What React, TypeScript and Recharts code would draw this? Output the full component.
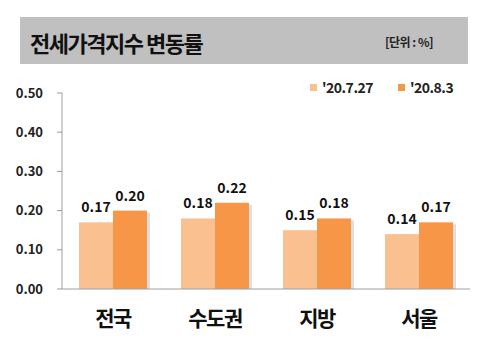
import React from 'react';
import {
  BarChart, Bar, XAxis, YAxis, Legend, LabelList,
} from 'recharts';

const categories = ['전국', '수도권', '지방', '서울'];
const jul27 = [0.17, 0.18, 0.15, 0.14];
const aug3 = [0.2, 0.22, 0.18, 0.17];
const seriesNames = ["'20.7.27", "'20.8.3"];
const seriesColors = ['#FAC090', '#F79646'];
const yTicks = [0, 0.1, 0.2, 0.3, 0.4, 0.5];
const edgeTicks = [1, 2, 3];

const FONT = '"Noto Sans CJK KR", "Noto Sans", sans-serif';

const data = categories.map((name, i) => ({
  name,
  jul27: jul27[i],
  aug3: aug3[i],
}));

// bar with a soft shadow on the right, like the original office chart
const ShadowBar = (props: any) => {
  const { x, y, width, height, fill } = props;
  if (!height || height <= 0) return null;
  return (
    <g>
      <rect x={ x + 3 } y={ y + 2 } width={ width } height={ height - 2 } fill="#000" opacity={ 0.13 } />
      <rect x={ x } y={ y } width={ width } height={ height } fill={ fill } />
    </g>
  );
};

const LegendBox = () => (
  <div style={ { display: 'flex', alignItems: 'center', fontFamily: FONT, fontWeight: 700, fontSize: 14, color: '#222' } }>
    { seriesNames.map((n, i) => (
      <div key={ n } style={ { display: 'flex', alignItems: 'center', marginRight: 25 } }>
        <span style={ { width: 7, height: 7, background: seriesColors[i], marginRight: 5, display: 'inline-block' } } />
        <span style={ { letterSpacing: -0.5 } }>{ n }</span>
      </div>
    )) }
  </div>
);

const labelStyle = { fontFamily: FONT, fontSize: 14, fontWeight: 700, fill: '#111' };

const App = () => (
  <div style={ { position: 'absolute', left: 0, top: 0, width: 488, height: 364, background: '#fff' } }>
    <div
      style={ {
        position: 'absolute', left: 20, top: 17, width: 448, height: 47, background: '#C0C0C0',
        display: 'flex', alignItems: 'center', justifyContent: 'space-between', fontFamily: FONT,
        boxSizing: 'border-box', paddingLeft: 10, paddingRight: 35, paddingTop: 2,
      } }
    >
      <span style={ { fontSize: 22, fontWeight: 700, letterSpacing: -1.5, color: '#111' } }>전세가격지수 변동률</span>
      <span style={ { fontSize: 12, fontWeight: 700, color: '#222', letterSpacing: -0.5 } }>[단위 : %]</span>
    </div>
    <BarChart
      width={ 488 }
      height={ 364 }
      data={ data }
      margin={ { top: 93, right: 18, left: 0, bottom: 5 } }
      barCategoryGap={ 17 }
      barGap={ 0 }
      style={ { position: 'absolute', left: 0, top: 0 } }
    >
      <XAxis
        xAxisId="edges"
        type="number"
        domain={ [0, 4] }
        ticks={ edgeTicks }
        tick={ false }
        axisLine={ false }
        tickSize={ 5 }
        tickLine={ { stroke: '#999' } }
        height={ 0 }
      />
      <XAxis
        dataKey="name"
        tickLine={ false }
        axisLine={ { stroke: '#A0A0A0' } }
        tickSize={ 0 }
        tickMargin={ 22 }
        height={ 50 }
        tick={ { fontFamily: FONT, fontSize: 21, fontWeight: 700, fill: '#111', letterSpacing: -1.5 } }
      />
      <YAxis
        width={ 62 }
        domain={ [0, 0.5] }
        ticks={ yTicks }
        tickFormatter={ (v: number) => v.toFixed(2) }
        axisLine={ { stroke: '#A0A0A0' } }
        tickLine={ { stroke: '#999' } }
        tickSize={ 5 }
        tickMargin={ 14 }
        tick={ { fontFamily: FONT, fontSize: 13, fontWeight: 700, fill: '#222' } }
      />
      <Legend
        content={ <LegendBox /> }
        wrapperStyle={ { position: 'absolute', top: 77, left: 310, width: 'auto' } }
      />
      <Bar dataKey="jul27" name={ seriesNames[0] } fill={ seriesColors[0] } shape={ ShadowBar } isAnimationActive={ false }>
        <LabelList dataKey="jul27" position="top" offset={ 10 } formatter={ (v: number) => v.toFixed(2) } style={ labelStyle } />
      </Bar>
      <Bar dataKey="aug3" name={ seriesNames[1] } fill={ seriesColors[1] } shape={ ShadowBar } isAnimationActive={ false }>
        <LabelList dataKey="aug3" position="top" offset={ 10 } formatter={ (v: number) => v.toFixed(2) } style={ labelStyle } />
      </Bar>
    </BarChart>
  </div>
);

export default App;
